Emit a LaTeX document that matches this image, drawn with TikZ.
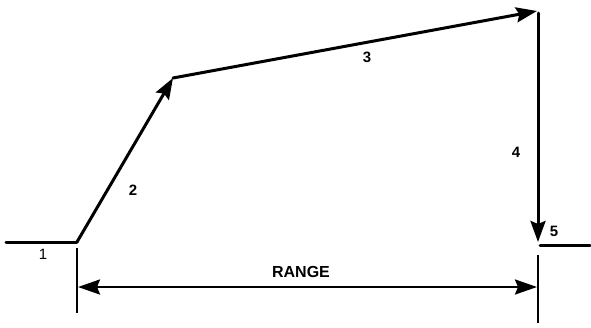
\documentclass[tikz,border=0pt]{standalone}
\usepackage{fontspec}
\setmainfont{Liberation Sans}
\usetikzlibrary{arrows.meta,positioning}
\tikzset{
  leg/.style={line width=3pt,draw=black,line cap=round},
  legarrow/.style={leg,-{Stealth[length=21pt,width=15pt,inset=3pt]}},
  rangearrow/.style={line width=2.6pt,draw=black,
                     {Stealth[length=22pt,width=15pt,inset=3pt]}-{Stealth[length=22pt,width=15pt,inset=3pt]}},
  rangetick/.style={line width=2.8pt,draw=black},
  lbl/.style={font=\fontsize{15}{17}\selectfont\bfseries,inner sep=0pt},
}

\begin{document}
\begin{tikzpicture}[x=1pt,y=-1pt]
\useasboundingbox (0,0) rectangle (591,327);
% flight path
\coordinate (start) at (6,242);
\coordinate (launch) at (77,242);
\coordinate (top) at (173,78);
\coordinate (apex) at (537,11);
\coordinate (corner) at (538,13);
\coordinate (impact) at (538,242);
\coordinate (hit) at (540,245);
\coordinate (stop) at (590,245);
\draw[leg] (start) -- (launch);
\draw[legarrow] (launch) -- (top);
\draw[legarrow] (top) -- (apex);
\draw[legarrow] (corner) -- (impact);
\draw[leg] (hit) -- (stop);
% range
\coordinate (lt) at (77,248);  \coordinate (lb) at (77,313);
\coordinate (rt) at (538,255); \coordinate (rb) at (538,323);
\coordinate (ra) at (78,287);  \coordinate (rz) at (537,287);
\draw[rangetick] (lt) -- (lb);
\draw[rangetick] (rt) -- (rb);
\draw[rangearrow] (ra) -- (rz);
\node[lbl,font=\fontsize{16}{18}\selectfont\bfseries] (range) at (301,272) {RANGE};
% phase labels
\node[lbl,font=\fontsize{15}{17}\selectfont] (p1) at (43,254) {1};
\node[lbl] (p2) at (133,190) {2};
\node[lbl] (p3) at (367,57) {3};
\node[lbl] (p4) at (516,152) {4};
\node[lbl] (p5) at (554,231) {5};
\end{tikzpicture}
\end{document}
